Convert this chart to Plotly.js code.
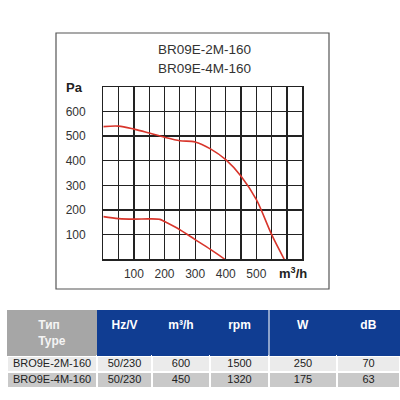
<!DOCTYPE html>
<html>
<head>
<meta charset="utf-8">
<script src="https://cdn.plot.ly/plotly-3.0.1.min.js"></script>
<style>
  html, body { margin: 0; padding: 0; background: #fff; }
  #chart { width: 400px; height: 400px; }
</style>
</head>
<body>
<div id="chart"></div>
<script>
// ─── curve data ─────────────────────────────────────────────
var flow2M = [0, 50, 100, 150, 200, 250, 300, 350, 400, 450, 500, 550, 591];
var pres2M = [538, 540, 528, 512, 495, 481, 476, 448, 404, 337, 242, 100, 0];

var flow4M = [0, 50, 100, 150, 185, 200, 250, 300, 350, 397];
var pres4M = [173, 165, 163, 164, 162, 153, 120, 80, 40, 0];

var modelNames = ['BR09E-2M-160', 'BR09E-4M-160'];

// ticks
var xGrid = [0, 50, 100, 150, 200, 250, 300, 350, 400, 450, 500, 550, 600, 650];
var xLabels = ['', '', '100', '', '200', '', '300', '', '400', '', '500', '', '', ''];
var yGrid = [0, 100, 200, 300, 400, 500, 600, 700];
var yLabels = ['', '100', '200', '300', '400', '500', '600', ''];

// ─── table data ─────────────────────────────────────────────
var tableHeader = ['Тип<br>Type', 'Hz/V', 'm³/h', 'rpm', 'W', 'dB'];
var typeCol = ['BRO9E-2M-160', 'BRO9E-4M-160'];
var hzCol = ['50/230', '50/230'];
var flowCol = ['600', '450'];
var rpmCol = ['1500', '1320'];
var wattCol = ['250', '175'];
var dbCol = ['70', '63'];

var FONT = 'Liberation Sans, Arial, sans-serif';
var RED = '#d8352b';
var BLUE = '#103d92';
var GREY_HEAD = '#a6a6a6';
var ROW_COLORS = ['#ebebeb', '#c9c9c9'];
var CLEAR = 'rgba(0,0,0,0)';

var colWidths = [90, 55, 58, 59, 68, 63];
var bodyValues = [typeCol, hzCol, flowCol, rpmCol, wattCol, dbCol];
var tableTop = 310;     // px from top of page
var textLift = 5;       // table cell text sits too low for 16px rows, lift it

var blankBody = bodyValues.map(function (col) { return col.map(function () { return ''; }); });
var rowFills = bodyValues.map(function () { return ROW_COLORS; });

var traces = [
  {
    type: 'scatter', mode: 'lines', name: modelNames[0],
    x: flow2M, y: pres2M,
    line: { color: RED, width: 1.6, shape: 'spline', smoothing: 0.9 },
    hoverinfo: 'skip', showlegend: false,
  },
  {
    type: 'scatter', mode: 'lines', name: modelNames[1],
    x: flow4M, y: pres4M,
    line: { color: RED, width: 1.6, shape: 'spline', smoothing: 0.9 },
    hoverinfo: 'skip', showlegend: false,
  },
  // table: fills, borders and header text
  {
    type: 'table',
    domain: { x: [7 / 400, 1], y: [0, 1 - tableTop / 400] },
    columnwidth: colWidths,
    header: {
      values: tableHeader.map(function (h) { return ['<b>' + h + '</b>']; }),
      align: 'center',
      height: 46,
      fill: { color: [GREY_HEAD, BLUE, BLUE, BLUE, BLUE, BLUE] },
      line: { color: [GREY_HEAD, BLUE, BLUE, BLUE, BLUE, BLUE], width: 0 },
      font: { family: FONT, size: 12, color: ['#f4f4f4', '#fff', '#fff', '#fff', '#fff', '#fff'] },
    },
    cells: {
      values: blankBody,
      align: 'center',
      height: 16,
      fill: { color: rowFills },
      line: { color: '#fff', width: 1.5 },
      font: { family: FONT, size: 11, color: '#222' },
    },
  },
  // same table, transparent, lifted a few px so the body text sits centred in its rows
  {
    type: 'table',
    domain: { x: [7 / 400, 1], y: [0, 1 - (tableTop - textLift) / 400] },
    columnwidth: colWidths,
    header: {
      values: tableHeader.map(function () { return ['']; }),
      height: 46,
      fill: { color: CLEAR },
      line: { color: CLEAR, width: 0 },
    },
    cells: {
      values: bodyValues,
      align: 'center',
      height: 16,
      fill: { color: CLEAR },
      line: { color: CLEAR, width: 0 },
      font: { family: FONT, size: 11, color: '#222' },
    },
  },
];

var layout = {
  width: 400, height: 400,
  margin: { l: 0, r: 0, t: 0, b: 0 },
  paper_bgcolor: '#fff', plot_bgcolor: '#fff',
  font: { family: FONT, color: '#333' },
  xaxis: {
    domain: [103.3 / 400, 302.3 / 400],
    range: [0, 650], fixedrange: true,
    tickmode: 'array', tickvals: xGrid, ticktext: xLabels,
    ticks: '', ticklabelstandoff: 3,
    showgrid: true, gridcolor: '#222', gridwidth: 1.2,
    showline: true, mirror: true, linecolor: '#222', linewidth: 1.2,
    zeroline: false,
    tickfont: { family: FONT, size: 12, color: '#333' },
  },
  yaxis: {
    domain: [1 - 259.3 / 400, 1 - 86.7 / 400],
    range: [0, 700], fixedrange: true,
    tickmode: 'array', tickvals: yGrid, ticktext: yLabels,
    ticks: '', ticklabelstandoff: 14,
    showgrid: true, gridcolor: '#222', gridwidth: 1.2,
    showline: true, mirror: true, linecolor: '#222', linewidth: 1.2,
    zeroline: false,
    tickfont: { family: FONT, size: 12, color: '#333' },
  },
  shapes: [
    // frame round the chart
    {
      type: 'rect', xref: 'paper', yref: 'paper',
      x0: 56 / 400, x1: 329 / 400, y0: 1 - 289 / 400, y1: 1 - 33 / 400,
      line: { color: '#555', width: 1.2 }, fillcolor: CLEAR, layer: 'below',
    },
    // single separator in the blue header
    {
      type: 'line', xref: 'paper', yref: 'paper',
      x0: 269 / 400, x1: 269 / 400, y0: 1 - 356 / 400, y1: 1 - 310 / 400,
      line: { color: '#dfe6f2', width: 1.2 },
    },
  ],
  annotations: [
    {
      text: modelNames[0], xref: 'paper', yref: 'paper',
      x: 204 / 400, y: 1 - 49 / 400, xanchor: 'center', yanchor: 'middle',
      showarrow: false, font: { family: FONT, size: 13.5, color: '#333' },
    },
    {
      text: modelNames[1], xref: 'paper', yref: 'paper',
      x: 204 / 400, y: 1 - 68.5 / 400, xanchor: 'center', yanchor: 'middle',
      showarrow: false, font: { family: FONT, size: 13.5, color: '#333' },
    },
    {
      text: '<b>Pa</b>', xref: 'paper', yref: 'paper',
      x: 74 / 400, y: 1 - 87 / 400, xanchor: 'center', yanchor: 'middle',
      showarrow: false, font: { family: FONT, size: 13, color: '#222' },
    },
    {
      text: '<b>m<sup>3</sup>/h</b>', xref: 'paper', yref: 'paper',
      x: 292.5 / 400, y: 1 - 273 / 400, xanchor: 'center', yanchor: 'middle',
      showarrow: false, font: { family: FONT, size: 13, color: '#222' },
    },
  ],
};

Plotly.newPlot('chart', traces, layout, { staticPlot: true, displayModeBar: false });
</script>
</body>
</html>
